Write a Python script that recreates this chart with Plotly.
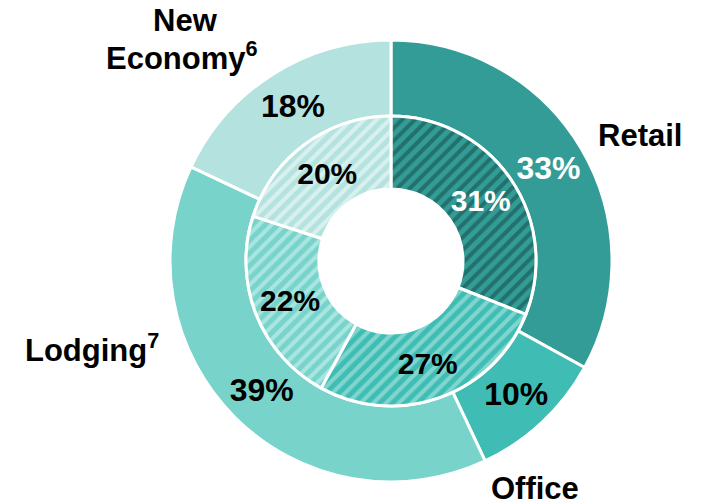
import plotly.graph_objects as go

# Portfolio mix by property type: outer ring vs. inner (hatched) ring
categories = ["Retail", "Office", "Lodging", "New Economy"]
outer_pct = [33, 10, 39, 18]
inner_pct = [31, 27, 22, 20]

base_colors = ["#339C97", "#3FBDB4", "#78D3CB", "#B3E2DF"]
stripe_colors = ["#22716C", "#80D6CF", "#A9E6E1", "#D8F1EF"]
outer_text_colors = ["white", "black", "black", "black"]
inner_text_colors = ["white", "black", "black", "black"]

W, H = 710, 502
CX, CY = 391, 261          # ring centre in pixels (from top-left)
R_OUT, R_MID, R_IN = 221, 145, 72

def domain(r):
    return dict(
        x=[(CX - r) / W, (CX + r) / W],
        y=[(H - CY - r) / H, (H - CY + r) / H],
    )

FONT = "Arial, Liberation Sans, sans-serif"

fig = go.Figure()

fig.add_trace(go.Pie(
    labels=categories,
    values=outer_pct,
    text=[f"{v}%" for v in outer_pct],
    texttemplate="%{text}",
    textinfo="text",
    textposition="inside",
    insidetextorientation="horizontal",
    textfont=dict(family=FONT, size=32, weight="bold", color=outer_text_colors),
    hole=R_MID / R_OUT,
    domain=domain(R_OUT),
    sort=False,
    direction="clockwise",
    rotation=0,
    marker=dict(colors=base_colors, line=dict(color="white", width=3)),
    showlegend=False,
    hoverinfo="label+value",
))

fig.add_trace(go.Pie(
    labels=categories,
    values=inner_pct,
    text=[f"{v}%" for v in inner_pct],
    texttemplate="%{text}",
    textinfo="text",
    textposition="inside",
    insidetextorientation="horizontal",
    textfont=dict(family=FONT, size=30, weight="bold", color=inner_text_colors),
    hole=R_IN / R_MID,
    domain=domain(R_MID),
    sort=False,
    direction="clockwise",
    rotation=0,
    marker=dict(
        colors=base_colors,
        line=dict(color="white", width=3),
        pattern=dict(
            shape="/",
            fgcolor=stripe_colors,
            bgcolor=base_colors,
            size=9,
            solidity=0.45,
            fillmode="replace",
        ),
    ),
    showlegend=False,
    hoverinfo="label+value",
))

# Category labels around the rings
label_font = dict(family=FONT, size=31, color="black", weight="bold")
labels = [
    ("Retail", 640, 135),
    ("Office", 535, 488),
    ("Lodging<sup>7</sup>", 92, 348),
    ("New", 185, 21),
    ("Economy<sup>6</sup>", 182, 56),
]
for txt, px, py in labels:
    fig.add_annotation(
        text=txt, x=px / W, y=1 - py / H, xref="paper", yref="paper",
        xanchor="center", yanchor="middle", showarrow=False, font=label_font,
    )

fig.update_layout(
    width=W, height=H,
    margin=dict(l=0, r=0, t=0, b=0),
    paper_bgcolor="white",
    plot_bgcolor="white",
    uniformtext=dict(minsize=30, mode="show"),
)

fig.write_html("out.html")
